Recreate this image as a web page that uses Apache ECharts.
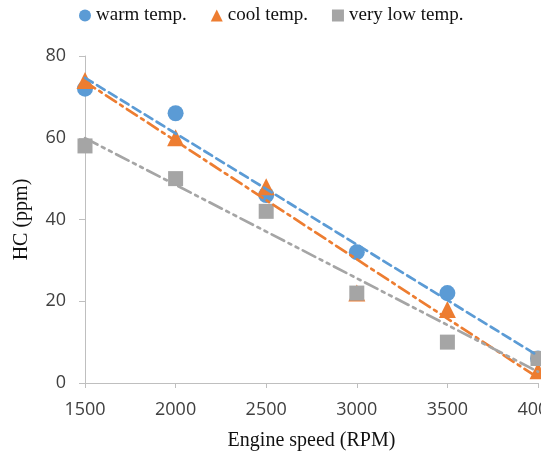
<!DOCTYPE html>
<html><head><meta charset="utf-8">
<script src="https://cdn.jsdelivr.net/npm/echarts@6/dist/echarts.min.js"></script>
<style>html,body{margin:0;padding:0;background:#fff}#c{width:541px;height:461px}</style>
</head><body><div id="c"></div>
<script>
const speeds = [1500, 2000, 2500, 3000, 3500, 4000];
const warm = [72, 66, 46, 32, 22, 6];
const cool = [74, 60, 48, 22, 18, 3];
const veryLow = [58, 50, 42, 22, 10, 6];
const names = ['warm temp.', 'cool temp.', 'very low temp.'];
const colors = ['#5B9BD5', '#ED7D31', '#A5A5A5'];

function fit(xs, ys) {
  const n = xs.length;
  const mx = xs.reduce((a, b) => a + b, 0) / n;
  const my = ys.reduce((a, b) => a + b, 0) / n;
  let sxy = 0, sxx = 0;
  for (let i = 0; i < n; i++) { sxy += (xs[i] - mx) * (ys[i] - my); sxx += (xs[i] - mx) ** 2; }
  const b = sxy / sxx, a = my - b * mx;
  const x0 = xs[0], x1 = xs[n - 1];
  return [[x0, a + b * x0], [x1, a + b * x1]];
}
const pts = ys => speeds.map((x, i) => [x, ys[i]]);
const sets = [warm, cool, veryLow];
const symbols = ['circle', 'triangle', 'rect'];
const sizes = [16, 17, 15];
const dashes = [[9, 5], [12, 5, 3, 5], [14, 5, 3, 5, 3, 5]];

const series = [];
sets.forEach((ys, k) => {
  series.push({
    name: names[k], type: 'scatter', data: pts(ys), symbol: symbols[k], symbolSize: sizes[k],
    itemStyle: { color: colors[k], opacity: 1 }, z: 2 + k, clip: false
  });
});
sets.forEach((ys, k) => {
  series.push({
    type: 'line', data: fit(speeds, ys), symbol: 'none', silent: true, z: 10,
    lineStyle: { color: colors[k], width: 2.7, type: dashes[k], cap: 'round' }
  });
});

const chart = echarts.init(document.getElementById('c'), null, { renderer: 'canvas' });
chart.setOption({
  animation: false,
  backgroundColor: '#fff',
  legend: {
    data: names.map((n, k) => ({ name: n, icon: symbols[k] })),
    top: 1, left: 74, itemWidth: 12, itemHeight: 12, itemGap: 24,
    textStyle: { fontFamily: 'Liberation Serif', fontSize: 19, color: '#111' }
  },
  grid: { left: 85, right: 3, top: 56, bottom: 78, containLabel: false, outerBoundsMode: 'none' },
  xAxis: {
    type: 'value', min: 1500, max: 4000, interval: 500,
    name: 'Engine speed (RPM)', nameLocation: 'middle', nameGap: 48,
    nameTextStyle: { fontFamily: 'Liberation Serif', fontSize: 20, color: '#111' },
    axisLine: { lineStyle: { color: '#BFBFBF', width: 1 } },
    axisTick: { show: true, length: 5, lineStyle: { color: '#BFBFBF' } },
    axisLabel: { fontFamily: 'Open Sans', fontSize: 18, color: '#404040', margin: 18, formatter: v => String(v), hideOverlap: false, showMaxLabel: true },
    splitLine: { show: false }
  },
  yAxis: {
    type: 'value', min: 0, max: 80, interval: 20,
    name: 'HC (ppm)', nameLocation: 'middle', nameGap: 53, nameRotate: 90,
    nameTextStyle: { fontFamily: 'Liberation Serif', fontSize: 20, color: '#111' },
    axisLine: { show: true, lineStyle: { color: '#BFBFBF', width: 1 } },
    axisTick: { show: true, length: 6, lineStyle: { color: '#BFBFBF' } },
    axisLabel: { fontFamily: 'Open Sans', fontSize: 18, color: '#404040', margin: 19, formatter: v => String(v) },
    splitLine: { show: false }
  },
  series: series
});
</script></body></html>
